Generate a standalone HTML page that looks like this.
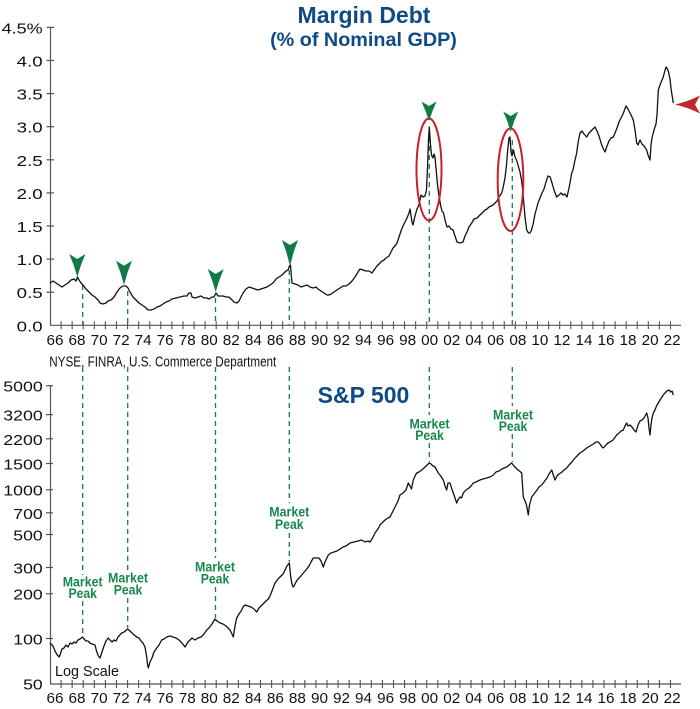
<!DOCTYPE html>
<html><head><meta charset="utf-8"><style>
html,body{margin:0;padding:0;background:#fff;}
svg{display:block;}
text{font-family:"Liberation Sans",Arial,sans-serif;}
</style></head><body>
<svg width="700" height="709" viewBox="0 0 700 709" xmlns="http://www.w3.org/2000/svg">
<rect width="700" height="709" fill="#fff"/>

<!-- Titles -->
<text x="364" y="23" font-size="23" font-weight="bold" fill="#0e4a84" text-anchor="middle">Margin Debt</text>
<text x="363.5" y="46" font-size="19.8" font-weight="bold" fill="#0e4a84" text-anchor="middle">(% of Nominal GDP)</text>
<text x="363.5" y="403" font-size="23" font-weight="bold" fill="#0e4a84" text-anchor="middle">S&amp;P 500</text>

<!-- Top axes -->
<g stroke="#555" stroke-width="1.2" fill="none">
<line x1="50.5" y1="27.4" x2="50.5" y2="325.3"/>
<line x1="50" y1="325.3" x2="681" y2="325.3"/>
<line x1="46.5" y1="27.4" x2="54" y2="27.4"/>
<line x1="46.5" y1="60.5" x2="54" y2="60.5"/>
<line x1="46.5" y1="93.6" x2="54" y2="93.6"/>
<line x1="46.5" y1="126.7" x2="54" y2="126.7"/>
<line x1="46.5" y1="159.8" x2="54" y2="159.8"/>
<line x1="46.5" y1="192.9" x2="54" y2="192.9"/>
<line x1="46.5" y1="226" x2="54" y2="226"/>
<line x1="46.5" y1="259.1" x2="54" y2="259.1"/>
<line x1="46.5" y1="292.2" x2="54" y2="292.2"/>
</g>
<g font-size="15" fill="#111" text-anchor="end">
<text x="42.7" y="33.4" textLength="41" lengthAdjust="spacingAndGlyphs">4.5%</text>
<text x="42.7" y="66.5" textLength="26" lengthAdjust="spacingAndGlyphs">4.0</text>
<text x="42.7" y="99.6" textLength="26" lengthAdjust="spacingAndGlyphs">3.5</text>
<text x="42.7" y="132.7" textLength="26" lengthAdjust="spacingAndGlyphs">3.0</text>
<text x="42.7" y="165.8" textLength="26" lengthAdjust="spacingAndGlyphs">2.5</text>
<text x="42.7" y="198.9" textLength="26" lengthAdjust="spacingAndGlyphs">2.0</text>
<text x="42.7" y="232" textLength="26" lengthAdjust="spacingAndGlyphs">1.5</text>
<text x="42.7" y="265.1" textLength="26" lengthAdjust="spacingAndGlyphs">1.0</text>
<text x="42.7" y="298.2" textLength="26" lengthAdjust="spacingAndGlyphs">0.5</text>
<text x="42.7" y="331.3" textLength="26" lengthAdjust="spacingAndGlyphs">0.0</text>
</g>

<!-- Bottom axes -->
<g stroke="#555" stroke-width="1.2" fill="none">
<line x1="50.5" y1="385.7" x2="50.5" y2="684"/>
<line x1="50" y1="684" x2="681" y2="684"/>
<line x1="46" y1="385.7" x2="53" y2="385.7"/>
<line x1="46" y1="414.6" x2="53" y2="414.6"/>
<line x1="46" y1="438.8" x2="53" y2="438.8"/>
<line x1="46" y1="463.5" x2="53" y2="463.5"/>
<line x1="46" y1="489.7" x2="53" y2="489.7"/>
<line x1="46" y1="512.8" x2="53" y2="512.8"/>
<line x1="46" y1="534.5" x2="53" y2="534.5"/>
<line x1="46" y1="567.5" x2="53" y2="567.5"/>
<line x1="46" y1="593.7" x2="53" y2="593.7"/>
<line x1="46" y1="638.5" x2="53" y2="638.5"/>
</g>
<g font-size="15" fill="#111" text-anchor="end">
<text x="42.7" y="391.7" textLength="39.4" lengthAdjust="spacingAndGlyphs">5000</text>
<text x="42.7" y="420.6" textLength="39.4" lengthAdjust="spacingAndGlyphs">3200</text>
<text x="42.7" y="444.8" textLength="39.4" lengthAdjust="spacingAndGlyphs">2200</text>
<text x="42.7" y="469.5" textLength="39.4" lengthAdjust="spacingAndGlyphs">1500</text>
<text x="42.7" y="495.7" textLength="39.4" lengthAdjust="spacingAndGlyphs">1000</text>
<text x="42.7" y="518.8" textLength="29.4" lengthAdjust="spacingAndGlyphs">700</text>
<text x="42.7" y="540.5" textLength="29.4" lengthAdjust="spacingAndGlyphs">500</text>
<text x="42.7" y="573.5" textLength="29.4" lengthAdjust="spacingAndGlyphs">300</text>
<text x="42.7" y="599.7" textLength="29.4" lengthAdjust="spacingAndGlyphs">200</text>
<text x="42.7" y="644.5" textLength="29.4" lengthAdjust="spacingAndGlyphs">100</text>
<text x="42.7" y="689.3" textLength="19.6" lengthAdjust="spacingAndGlyphs">50</text>
</g>

<!-- X ticks (both panels) -->
<g id="xt" stroke="#555" stroke-width="1.1">
<path d="M61.08 321.3V329.3M72.16 321.3V329.3M83.24 321.3V329.3M94.32 321.3V329.3M105.4 321.3V329.3M116.48 321.3V329.3M127.56 321.3V329.3M138.64 321.3V329.3M149.72 321.3V329.3M160.8 321.3V329.3M171.88 321.3V329.3M182.96 321.3V329.3M194.04 321.3V329.3M205.12 321.3V329.3M216.2 321.3V329.3M227.28 321.3V329.3M238.36 321.3V329.3M249.44 321.3V329.3M260.52 321.3V329.3M271.6 321.3V329.3M282.68 321.3V329.3M293.76 321.3V329.3M304.84 321.3V329.3M315.92 321.3V329.3M327 321.3V329.3M338.08 321.3V329.3M349.16 321.3V329.3M360.24 321.3V329.3M371.32 321.3V329.3M382.4 321.3V329.3M393.48 321.3V329.3M404.56 321.3V329.3M415.64 321.3V329.3M426.72 321.3V329.3M437.8 321.3V329.3M448.88 321.3V329.3M459.96 321.3V329.3M471.04 321.3V329.3M482.12 321.3V329.3M493.2 321.3V329.3M504.28 321.3V329.3M515.36 321.3V329.3M526.44 321.3V329.3M537.52 321.3V329.3M548.6 321.3V329.3M559.68 321.3V329.3M570.76 321.3V329.3M581.84 321.3V329.3M592.92 321.3V329.3M604 321.3V329.3M615.08 321.3V329.3M626.16 321.3V329.3M637.24 321.3V329.3M648.32 321.3V329.3M659.4 321.3V329.3M670.48 321.3V329.3"/>
</g>
<use href="#xt" transform="translate(0,358.7)"/>

<g id="xl" font-size="14.5" fill="#111" text-anchor="middle">
<text x="55" y="345" textLength="17" lengthAdjust="spacingAndGlyphs">66</text>
<text x="77.04" y="345" textLength="17" lengthAdjust="spacingAndGlyphs">68</text>
<text x="99.08" y="345" textLength="17" lengthAdjust="spacingAndGlyphs">70</text>
<text x="121.12" y="345" textLength="17" lengthAdjust="spacingAndGlyphs">72</text>
<text x="143.16" y="345" textLength="17" lengthAdjust="spacingAndGlyphs">74</text>
<text x="165.2" y="345" textLength="17" lengthAdjust="spacingAndGlyphs">76</text>
<text x="187.24" y="345" textLength="17" lengthAdjust="spacingAndGlyphs">78</text>
<text x="209.28" y="345" textLength="17" lengthAdjust="spacingAndGlyphs">80</text>
<text x="231.32" y="345" textLength="17" lengthAdjust="spacingAndGlyphs">82</text>
<text x="253.36" y="345" textLength="17" lengthAdjust="spacingAndGlyphs">84</text>
<text x="275.4" y="345" textLength="17" lengthAdjust="spacingAndGlyphs">86</text>
<text x="297.44" y="345" textLength="17" lengthAdjust="spacingAndGlyphs">88</text>
<text x="319.48" y="345" textLength="17" lengthAdjust="spacingAndGlyphs">90</text>
<text x="341.52" y="345" textLength="17" lengthAdjust="spacingAndGlyphs">92</text>
<text x="363.56" y="345" textLength="17" lengthAdjust="spacingAndGlyphs">94</text>
<text x="385.6" y="345" textLength="17" lengthAdjust="spacingAndGlyphs">96</text>
<text x="407.64" y="345" textLength="17" lengthAdjust="spacingAndGlyphs">98</text>
<text x="429.68" y="345" textLength="17" lengthAdjust="spacingAndGlyphs">00</text>
<text x="451.72" y="345" textLength="17" lengthAdjust="spacingAndGlyphs">02</text>
<text x="473.76" y="345" textLength="17" lengthAdjust="spacingAndGlyphs">04</text>
<text x="495.8" y="345" textLength="17" lengthAdjust="spacingAndGlyphs">06</text>
<text x="517.84" y="345" textLength="17" lengthAdjust="spacingAndGlyphs">08</text>
<text x="539.88" y="345" textLength="17" lengthAdjust="spacingAndGlyphs">10</text>
<text x="561.92" y="345" textLength="17" lengthAdjust="spacingAndGlyphs">12</text>
<text x="583.96" y="345" textLength="17" lengthAdjust="spacingAndGlyphs">14</text>
<text x="606" y="345" textLength="17" lengthAdjust="spacingAndGlyphs">16</text>
<text x="628.04" y="345" textLength="17" lengthAdjust="spacingAndGlyphs">18</text>
<text x="650.08" y="345" textLength="17" lengthAdjust="spacingAndGlyphs">20</text>
<text x="672.12" y="345" textLength="17" lengthAdjust="spacingAndGlyphs">22</text>
</g>
<use href="#xl" transform="translate(0,358)"/>

<text x="49.3" y="366.3" font-size="15" fill="#111" textLength="227" lengthAdjust="spacingAndGlyphs">NYSE, FINRA, U.S. Commerce Department</text>
<text x="55" y="676" font-size="15" fill="#111" textLength="64" lengthAdjust="spacingAndGlyphs">Log Scale</text>

<!-- Green dashed lines -->
<g stroke="#1c7a47" stroke-width="1.3" stroke-dasharray="5,4" fill="none">
<path d="M82.7 285V325M82.7 367V575M82.7 601V637"/>
<path d="M127.7 291V325M127.7 367V570M127.7 598V628"/>
<path d="M215.5 298V325M215.5 367V558M215.5 587V618"/>
<path d="M289.3 270V325M289.3 367V503M289.3 533V562"/>
<path d="M429.3 128V325M429.3 367V415M429.3 443V462"/>
<path d="M512.3 140V325M512.3 367V406M512.3 434V462"/>
</g>

<!-- Market Peak labels -->
<g font-size="13.5" font-weight="bold" fill="#18874c" text-anchor="middle">
<text x="82.7" y="586.5" textLength="40" lengthAdjust="spacingAndGlyphs">Market</text>
<text x="82.7" y="598" textLength="28.5" lengthAdjust="spacingAndGlyphs">Peak</text>
<text x="128" y="582.3" textLength="40" lengthAdjust="spacingAndGlyphs">Market</text>
<text x="128" y="594.5" textLength="28.5" lengthAdjust="spacingAndGlyphs">Peak</text>
<text x="215" y="571.7" textLength="40" lengthAdjust="spacingAndGlyphs">Market</text>
<text x="215" y="583.5" textLength="28.5" lengthAdjust="spacingAndGlyphs">Peak</text>
<text x="289.3" y="516.7" textLength="40" lengthAdjust="spacingAndGlyphs">Market</text>
<text x="289.3" y="528.8" textLength="28.5" lengthAdjust="spacingAndGlyphs">Peak</text>
<text x="429.5" y="428.3" textLength="40" lengthAdjust="spacingAndGlyphs">Market</text>
<text x="429.5" y="440" textLength="28.5" lengthAdjust="spacingAndGlyphs">Peak</text>
<text x="513" y="419.3" textLength="40" lengthAdjust="spacingAndGlyphs">Market</text>
<text x="513" y="431" textLength="28.5" lengthAdjust="spacingAndGlyphs">Peak</text>
</g>

<!-- Margin debt series -->
<polyline fill="none" stroke="#111" stroke-width="1.3" stroke-linejoin="round" points="50,283 53,281 56,283 59,285 62,287 65,285 68,283 71,280 74,279 76,281 77.5,277 79,280 81,283 83,285 86,289 89,292 92,295 95,297 98,300 100,303 103,304 106,303 108,301 111,300 114,297 117,292 120,288 123,286 126,286 128,288 130,292 133,297 136,300 139,303 142,305 145,307 148,310 151,310 154,309 157,307 160,306 163,304 166,302 169,301 172,299 176,298 180,297 184,296 187,296 189,293 191,293 192,297 195,298 198,297 201,296 204,298 207,298 209,299 212,297 214,297 216,293 218,296 220,296 223,296 226,297 229,297 231,299 234,302 237,303 239,301 241,297 243,293 246,289 249,287 252,288 255,289 258,290 261,289 264,288 267,287 270,285 273,283 276,279 279,277 282,275 284,273 286,271 288,270 289.5,266 290.5,265 291.5,278 292,283 295,284 298,285 301,287 304,286 307,285 310,287 313,288 316,287 318,289 321,291 324,293 327,295 329,295 331,294 334,292 337,290 340,288 343,286 346,286 349,284 352,281 355,277 358,272 360,269 363,270 366,271 369,271 372,273 374,270 377,266 380,263 382,261 384,260 386,258 389,256 391,252 393,248 395,246 397,243 399,237 401,231 403,226 405,222 407,218 409,213 410,209 412,222 413,225 415,216 417,209 418.5,206 420,200 421,195 423,197 425,196 426.5,190 427.5,168 428.5,140 429.3,127 430.5,145 431.5,155 433,158 434,154 435,157 436,168 437.5,185 439,196 440.7,206 442,211 443.5,213 445,220 447,227 449,226 451,229 453,230 455,236 457,242 460,243 463,242 465,236 467,232 469,227 471.7,223 474,219 477,218 479,216 481,214 483,212 485,210 487,209 489,207 491,206 493,205 495,203 497,201 499,197 501.7,193 503,188 505,178 506.5,165 507.5,152 509,138 510,137 511,152 512,156 513.5,150 515,157 516.5,160 518,165 520,172 521.5,180 522.7,190 524,205 525,217 526.7,230 528.5,233 530,233 531.5,230 533.3,223 535,214 536.7,208 538,203 540,198 542,193 544,189 546,182 548,176 550,176.7 552,183 554,190 556.7,197 559,195 561,193 563,195 565,194 567,197 569,188 570,183 571.7,173 573,170 575,160 576.7,153 578,143 580,133 582,131 584,134 586.7,137 589,133 591,131 593,129 595,127 597,131 599,136 601.7,145 603,148 605,152 607,146 609,141 611,138 613.3,137 615,133 617,128 619,122 621,118 623,114 624.5,110 626,106 628,109 630,113 631.5,116 633.3,120 635,130 636.7,143 638,145 640,140 642,144 644,146 646.7,150 648,155 650,160 651,145 652,138 654,130 656,124 657,115 658.3,90 660,85 662,80 663.3,77 664.5,72 666,67 667.5,69 668.5,72 670,79 671,88 671.7,93 673.3,103"/>

<!-- S&P series -->
<polyline fill="none" stroke="#111" stroke-width="1.3" stroke-linejoin="round" points="50,643 53,646 55,651 57.3,655 59.3,657 61,652 62,649 64,648 66,645 68,647 70,643 72,644 74,642 76,643 78,640 80,639 82.7,637 84,639 86,641 88,641 90,643 92,644 95,645 96.5,651 98.3,656 100,658 102,652 104,646 106,641 108.3,638 110,640 112,642 114,640 116,641 118,637 121.7,633 124,632 127.7,629 130,631 133,634 136.7,637 139,638 141,641 143,643 145,647 146.7,657 147.5,664 148.3,668 150,662 152,658 154,652 156.7,648 159,645 161.7,640 164,639 166.7,637 170,636 173,637 176,638 179,640 182,643 185,647 188,642 190,640 192,638 195,640 198,638 201,637 204,634 206.7,630 209,628 212,624 215,619 217,621 220,623 223,624 226,626 228,628 230,630 232,634 233.3,637 235,626 236.7,618 239,614 241.7,610 243,607 245,605 248,606 251,607 254,609 256.7,612 259,608 262,605 265,602 268.3,599 270,596 272,591 275,583 278,579 281,576 283,574 285,570 287,566 289.3,563 290.5,575 291.7,583 293,587 294,586 296,582 298,579 301,576 303.3,573 306,570 309,566 311,562 313.3,558 316,558 319,558 321,561 323.3,567 325,562 328.3,555 331,553 334,552 337,551 340,549 343,547 346,546 350,543 354,542 358,541 361.7,540 365,542 368,541 370,542 372,539 375,533 378,529 380,525 383,522 385,520 388,518 390,517 392,513 395,507 398,501 400,495 403,493 406,490 408.3,483 410,486 411.5,489 413.3,480 415,476 416.7,473 419,472 421.7,470 424,468 426,466 429.3,463 431,464 433,466 435,467 438.3,473 440,475 443.3,480 445,486 446.7,490 448,483 450,483 451.5,488 453.3,493 455,498 456.7,503 458,500 460,497 461.5,498 463.3,493 466,490 469,488 471,486 473.3,483 476,482 478,481 480,480 483,479 486.7,478 490,477 493.3,475 496,472 499,471 502,469 504,468 506.7,467 509,465 511.7,463 514,466 516,468 518,470 519.5,471 521.7,473 522.5,485 523.3,497 525,501 526.5,505 528.3,515 529.5,505 531.7,497 534,494 537,490 539,487 541.7,485 544,482 547,478 549,474 551.7,470 553,474 555,480 557,476 559,474 562,472 564,470 566.7,468 569,465 571,463 573.3,460 576,457 578,455 580,453 583,451 586.7,448 590,446 593.3,444 596,442 598.3,442 600,444 602,447 603.3,448 606,445 608,443 610,442 613,440 616.7,435 619,433 621,431 623.3,430 625,426 626.7,423 628,426 630,425 632,427 634,430 636,432 638,425 640,421 642,420 644,418 646.7,413 648,418 649,428 650,435 651,425 652,418 653.3,413 655,410 656.5,406 658.3,403 660,400 662,397 663.3,395 665,393 667,391 669.3,390 670.5,392 672,391 673.3,395"/>

<!-- Red ellipses -->
<g fill="none" stroke="#c8202a" stroke-width="2">
<ellipse cx="429" cy="169.5" rx="12.5" ry="51"/>
<ellipse cx="510.5" cy="179.7" rx="12.8" ry="51.3"/>
</g>

<!-- Green markers -->
<g fill="#0f7a45">
<path d="M69.3 254 L77.3 259 L85.3 254 L81 265 L77.3 277 L73.6 265 Z"/>
<path d="M116 260.7 L124 265.7 L132 260.7 L127.7 272 L124 285 L120.3 272 Z"/>
<path d="M207.7 269 L215.7 274 L223.7 269 L219.4 280 L215.7 292 L212 280 Z"/>
<path d="M282 240 L290 245 L298 240 L293.7 252 L290 266 L286.3 252 Z"/>
<path d="M421.5 101.5 L429 106 L436.5 101.5 L432.5 111 L429 121 L425.5 111 Z"/>
<path d="M503.2 111.5 L510.7 116 L518.2 111.5 L514.2 121 L510.7 132 L507.2 121 Z"/>
</g>

<!-- Red arrow -->
<path d="M675 104.5 Q688 101.5 700 95.5 L695 104.5 L700 113.5 Q688 107.5 675 104.5Z" fill="#c1272d"/>
</svg>
</body></html>
